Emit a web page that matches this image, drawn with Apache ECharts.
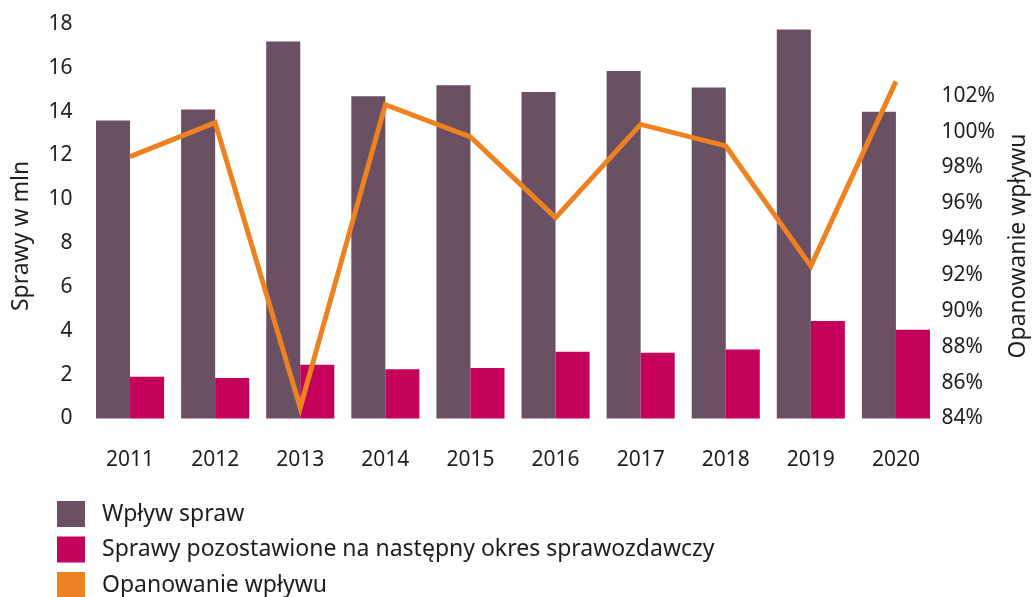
<!DOCTYPE html>
<html>
<head>
<meta charset="utf-8">
<script src="https://cdn.jsdelivr.net/npm/echarts@6/dist/echarts.min.js"></script>
<style>
html, body { margin: 0; padding: 0; background: #fff; }
#chart { width: 1035px; height: 597px; }
</style>
</head>
<body>
<div id="chart"></div>
<script>
// lata
var years = ['2011', '2012', '2013', '2014', '2015', '2016', '2017', '2018', '2019', '2020'];
// Wpływ spraw (mln)
var wplyw = [13.6, 14.1, 17.2, 14.7, 15.2, 14.9, 15.85, 15.1, 17.75, 14.0];
// Sprawy pozostawione na następny okres sprawozdawczy (mln)
var pozostawione = [1.9, 1.85, 2.45, 2.25, 2.3, 3.05, 3.0, 3.15, 4.45, 4.05];
// Opanowanie wpływu (%)
var opanowanie = [98.6, 100.5, 84.6, 101.5, 99.7, 95.2, 100.4, 99.2, 92.5, 102.8];

var fontFamily = '"Noto Sans", "Open Sans", sans-serif';
var textColor = '#1e1e1e';

var myChart = echarts.init(document.getElementById('chart'));
var option = {
	animation: false,
	textStyle: { fontFamily: fontFamily, color: textColor },
	grid: {
		left: 87.5,
		right: 96.5,
		top: 24,
		bottom: 178.5
	},
	legend: {
		orient: 'vertical',
		left: 57,
		top: 501,
		height: 120,
		padding: 0,
		itemWidth: 28,
		itemHeight: 26,
		itemGap: 9.5,
		icon: 'rect',
		textStyle: { fontSize: 23, color: textColor, fontFamily: fontFamily, padding: [0, 0, 0, 12] },
		data: ['Wpływ spraw', 'Sprawy pozostawione na następny okres sprawozdawczy', 'Opanowanie wpływu']
	},
	graphic: [
		{
			type: 'text',
			x: 21, y: 236,
			rotation: Math.PI / 2,
			style: { text: 'Sprawy w mln', fontSize: 23, fill: textColor, fontFamily: fontFamily, align: 'center', verticalAlign: 'middle' }
		},
		{
			type: 'text',
			x: 1018, y: 246,
			rotation: Math.PI / 2,
			style: { text: 'Opanowanie wpływu', fontSize: 23, fill: textColor, fontFamily: fontFamily, align: 'center', verticalAlign: 'middle' }
		}
	],
	xAxis: {
		type: 'category',
		data: years,
		axisLine: { show: false },
		axisTick: { show: false },
		axisLabel: { fontSize: 21, color: textColor, margin: 31 }
	},
	yAxis: [
		{
			type: 'value',
			min: 0,
			max: 18,
			interval: 2,
			splitLine: { show: false },
			axisLine: { show: false },
			axisTick: { show: false },
			axisLabel: { fontSize: 21, color: textColor, margin: 15 }
		},
		{
			type: 'value',
			position: 'right',
			min: 84,
			max: 106,
			interval: 2,
			splitLine: { show: false },
			axisLine: { show: false },
			axisTick: { show: false },
			axisLabel: {
				fontSize: 21,
				color: textColor,
				margin: 3,
				formatter: function (v) { return v > 102 ? '' : v + '%'; }
			}
		}
	],
	series: [
		{
			name: 'Wpływ spraw',
			type: 'bar',
			data: wplyw,
			barGap: '0%',
			barCategoryGap: '20%',
			itemStyle: { color: '#6A5063' }
		},
		{
			name: 'Sprawy pozostawione na następny okres sprawozdawczy',
			type: 'bar',
			data: pozostawione,
			itemStyle: { color: '#C5005A' }
		},
		{
			name: 'Opanowanie wpływu',
			type: 'line',
			yAxisIndex: 1,
			data: opanowanie,
			showSymbol: false,
			symbol: 'none',
			lineStyle: { color: '#EF8220', width: 5, join: 'miter' },
			itemStyle: { color: '#EF8220' }
		}
	]
};
myChart.setOption(option);
</script>
</body>
</html>
